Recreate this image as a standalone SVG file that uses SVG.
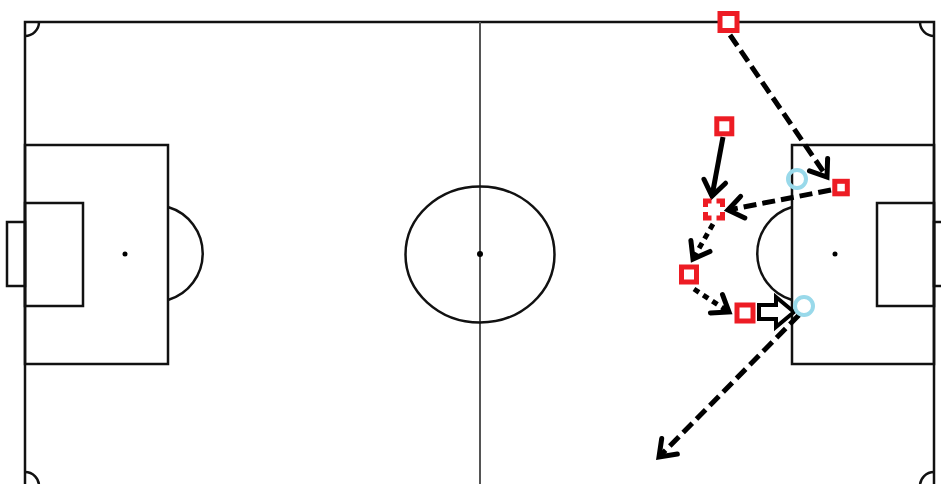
<svg xmlns="http://www.w3.org/2000/svg" width="941" height="484" viewBox="0 0 941 484">
<style>
.ln{fill:none;stroke:#111;stroke-width:2.5}
.half{fill:none;stroke:#555;stroke-width:2}
.sq{fill:#fff;stroke:#ED1C24;stroke-width:5}
.sqd{fill:#fff;stroke:#ED1C24;stroke-width:5;stroke-dasharray:12 5;stroke-dashoffset:6}
.ci{fill:none;stroke:#99D9EA;stroke-width:4}
.c{fill:none;stroke:#000;stroke-width:5;marker-end:url(#ah)}
.dash{stroke-dasharray:13 6}
.sdash{stroke-dasharray:6 5}
</style>
<defs>
<marker id="ah" markerUnits="userSpaceOnUse" viewBox="-22 -15 28 30" refX="0" refY="0" markerWidth="28" markerHeight="30" orient="auto" overflow="visible">
<path d="M-15,-11 L0,0 L-15,11" fill="none" stroke="#000" stroke-width="5" stroke-linecap="round" stroke-linejoin="miter"/>
</marker>
</defs>
<rect width="941" height="484" fill="#fff"/>
<g id="pitch">
<rect class="ln" x="25" y="22" width="909" height="464"/>
<line class="half" x1="480" y1="22" x2="480" y2="486"/>
<ellipse class="ln" cx="480" cy="254.5" rx="74.5" ry="68"/>
<circle cx="480" cy="254" r="3" fill="#000"/>
<path class="ln" d="M25,36 A14,14 0 0 0 39,22"/>
<path class="ln" d="M920,22 A14,14 0 0 0 934,36"/>
<path class="ln" d="M25,472 A14,14 0 0 1 39,486"/>
<path class="ln" d="M934,472 A14,14 0 0 0 920,486"/>
<rect class="ln" x="25" y="145" width="143" height="219"/>
<rect class="ln" x="25" y="203" width="58" height="103"/>
<rect class="ln" x="7" y="222" width="18" height="64" stroke-width="3"/>
<circle cx="125" cy="254" r="2.5" fill="#000"/>
<path class="ln" d="M168,207 A48.5,48.5 0 0 1 168,300"/>
<rect class="ln" x="792" y="145" width="142" height="219"/>
<rect class="ln" x="877" y="203" width="57" height="103"/>
<rect class="ln" x="934" y="222" width="18" height="64" stroke-width="3"/>
<circle cx="835" cy="254" r="2.5" fill="#000"/>
<path class="ln" d="M792,207 A48.5,48.5 0 0 0 792,300"/>
</g>
<g id="connectors">
<line class="c dash" x1="730" y1="35" x2="827" y2="177"/>
<line class="c" x1="723" y1="137" x2="712" y2="196"/>
<line class="c dash" x1="831" y1="190" x2="728" y2="210"/>
<line class="c sdash" x1="713" y1="224" x2="693" y2="259"/>
<line class="c sdash" x1="694" y1="289" x2="729" y2="312"/>
<line class="c dash" x1="799" y1="315" x2="659" y2="457"/>
<path d="M759,305 L776,305 L776,297 L794,312 L776,327 L776,319 L759,319 Z" fill="#fff" stroke="#000" stroke-width="4" stroke-linejoin="miter"/>
</g>
<g id="p1"><rect class="sq" x="720" y="13.5" width="17" height="17"/></g>
<g id="p2"><rect class="sq" x="716.8" y="118.8" width="15" height="15"/></g>
<g id="p3"><rect class="sq" x="834.8" y="181.3" width="12.5" height="12.5"/></g>
<g id="p4"><rect class="sqd" x="705.5" y="201" width="17" height="17"/></g>
<g id="p5"><rect class="sq" x="681.5" y="267" width="15" height="15"/></g>
<g id="p6"><rect class="sq" x="737" y="305" width="16" height="16"/></g>
<g id="d1"><circle class="ci" cx="797" cy="179" r="9"/></g>
<g id="d2"><circle class="ci" cx="804" cy="306" r="9"/></g>
</svg>
